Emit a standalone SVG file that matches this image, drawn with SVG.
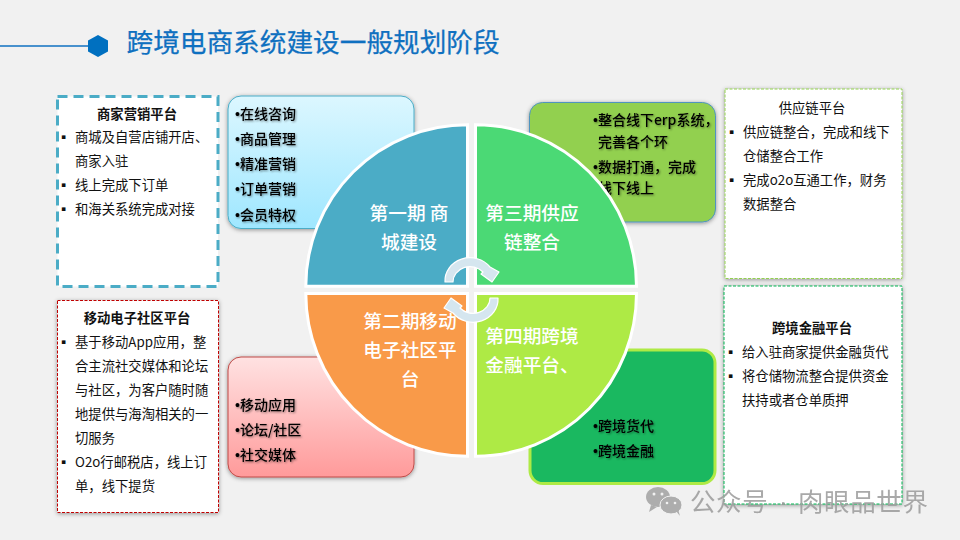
<svg xmlns="http://www.w3.org/2000/svg" width="960" height="540" viewBox="0 0 960 540">
<style>
text{font-family:"Noto Sans CJK SC","Liberation Sans",sans-serif;}
.title{font-size:26.67px;fill:#0f70c0;stroke:#0f70c0;stroke-width:0.25;}
.b{font-size:13.33px;fill:#111;}
.h{font-size:13.33px;fill:#111;font-weight:700;text-anchor:middle;}
.l{font-size:14px;fill:#000;font-weight:500;filter:url(#ts);}
.d{font-family:"Liberation Sans",sans-serif;}
.q{font-size:18.67px;fill:#fff;font-weight:500;text-anchor:middle;}
.sq{stroke:#fff;stroke-width:3;}
.panel{fill:#fff;}
.sh{filter:url(#ds);}
.wm{font-size:25.500px;fill:#a0a0a0;letter-spacing:0.6px;}
</style>
<defs>
<filter id="ds" x="-10%" y="-10%" width="120%" height="120%"><feDropShadow dx="0" dy="1" stdDeviation="2" flood-color="#000" flood-opacity="0.4"/></filter>
<filter id="ts" x="-5%" y="-15%" width="115%" height="135%"><feDropShadow dx="1" dy="1" stdDeviation="0.8" flood-color="#000" flood-opacity="0.45"/></filter>
<linearGradient id="gb" x1="0" y1="0" x2="0" y2="1"><stop offset="0" stop-color="#dcf7ff"/><stop offset="1" stop-color="#9fe7ff"/></linearGradient>
<linearGradient id="gr" x1="0" y1="0" x2="0" y2="1"><stop offset="0" stop-color="#ffe2e2"/><stop offset="1" stop-color="#ff9a9a"/></linearGradient>
</defs>
<rect width="960" height="540" fill="#f1f1f1"/>
<g id="header">
<line x1="0" y1="46" x2="90" y2="46" stroke="#0f70c0" stroke-width="1.6"/>
<polygon points="98,35 108,40.5 108,51.500 98,57 88,51.500 88,40.500" fill="#0070c0"/>
<text class="title" x="126.500" y="51.500">跨境电商系统建设一般规划阶段</text>
</g>
<g id="panel-merchant">
<rect class="panel" x="57.500" y="96.500" width="160.500" height="190" stroke="#4bacc6" stroke-width="3" stroke-dasharray="10 6"/>
<text class="h" x="137" y="119">商家营销平台</text>
<text class="b" x="57" y="142">▪</text><text class="b" x="75" y="142">商城及自营店铺开店、</text>
<text class="b" x="75" y="166">商家入驻</text>
<text class="b" x="57" y="190">▪</text><text class="b" x="75" y="190">线上完成下订单</text>
<text class="b" x="57" y="214">▪</text><text class="b" x="75" y="214">和海关系统完成对接</text>
</g>
<g id="panel-mobile">
<rect class="panel sh" x="57.500" y="300.500" width="161" height="212" stroke="#c00000" stroke-width="1" stroke-dasharray="3 1.500"/>
<text class="h" x="137" y="323">移动电子社区平台</text>
<text class="b" x="57" y="347">▪</text><text class="b" x="75" y="347">基于移动App应用，整</text>
<text class="b" x="75" y="371">合主流社交媒体和论坛</text>
<text class="b" x="75" y="395">与社区，为客户随时随</text>
<text class="b" x="75" y="419">地提供与海淘相关的一</text>
<text class="b" x="75" y="443">切服务</text>
<text class="b" x="57" y="467">▪</text><text class="b" x="75" y="467">O2o行邮税店，线上订</text>
<text class="b" x="75" y="491">单，线下提货</text>
</g>
<g id="panel-supply">
<rect class="panel sh" x="725" y="89" width="177" height="189.500" stroke="#92d050" stroke-width="1" stroke-dasharray="3 1.500"/>
<text class="b" x="812" y="113" text-anchor="middle">供应链平台</text>
<text class="b" x="725" y="137">▪</text><text class="b" x="743" y="137">供应链整合，完成和线下</text>
<text class="b" x="743" y="161">仓储整合工作</text>
<text class="b" x="725" y="185">▪</text><text class="b" x="743" y="185">完成o2o互通工作，财务</text>
<text class="b" x="743" y="209">数据整合</text>
</g>
<g id="panel-finance">
<rect class="panel sh" x="724" y="286" width="178" height="218" stroke="#00b050" stroke-width="1" stroke-dasharray="3 1.500"/>
<text class="h" x="812" y="333">跨境金融平台</text>
<text class="b" x="724" y="357">▪</text><text class="b" x="742" y="357">给入驻商家提供金融货代</text>
<text class="b" x="724" y="381">▪</text><text class="b" x="742" y="381">将仓储物流整合提供资金</text>
<text class="b" x="742" y="405">扶持或者仓单质押</text>
</g>
<g id="card-1">
<rect class="sh" x="228" y="96" width="186" height="132.500" rx="13" fill="url(#gb)" stroke="#4bacc6"/>
<text class="l" x="235" y="119"><tspan class="d">•</tspan>在线咨询</text>
<text class="l" x="235" y="144"><tspan class="d">•</tspan>商品管理</text>
<text class="l" x="235" y="169"><tspan class="d">•</tspan>精准营销</text>
<text class="l" x="235" y="194"><tspan class="d">•</tspan>订单营销</text>
<text class="l" x="235" y="220"><tspan class="d">•</tspan>会员特权</text>
</g>
<g id="card-2">
<rect class="sh" x="228" y="357" width="186" height="120" rx="13" fill="url(#gr)" stroke="#be4b48"/>
<text class="l" x="235" y="410"><tspan class="d">•</tspan>移动应用</text>
<text class="l" x="235" y="435"><tspan class="d">•</tspan>论坛/社区</text>
<text class="l" x="235" y="460"><tspan class="d">•</tspan>社交媒体</text>
</g>
<g id="card-3">
<rect class="sh" x="529.500" y="102.500" width="186" height="119.500" rx="13" fill="#92d050" stroke="#4f94c0"/>
<text class="l" x="593" y="125"><tspan class="d">•</tspan>整合线下erp系统，</text>
<text class="l" x="598" y="147">完善各个环</text>
<text class="l" x="593" y="172"><tspan class="d">•</tspan>数据打通，完成</text>
<text class="l" x="598" y="193">线下线上</text>
</g>
<g id="card-4">
<rect x="530" y="350" width="185" height="133.500" rx="13" fill="#1ab860" stroke="#aeea45" stroke-width="3"/>
<text class="l" x="593" y="431"><tspan class="d">•</tspan>跨境货代</text>
<text class="l" x="593" y="456"><tspan class="d">•</tspan>跨境金融</text>
</g>
<g id="phase-1">
<path class="sq" d="M467.500,286.200 H305.800 A161.700,161.500 0 0 1 467.500,124.700 Z" fill="#4bacc6"/>
<text class="q" x="409" y="219.500">第一期 商</text>
<text class="q" x="409" y="248.500">城建设</text>
</g>
<g id="phase-3">
<path class="sq" d="M475.500,286.200 V124.700 A161,161.500 0 0 1 636.500,286.200 Z" fill="#4bd975"/>
<text class="q" x="532" y="219.500">第三期供应</text>
<text class="q" x="532" y="248.500">链整合</text>
</g>
<g id="phase-2">
<path class="sq" d="M467.500,293.500 V456.200 A161.700,162.700 0 0 1 305.800,293.500 Z" fill="#f99a49"/>
<text class="q" x="410" y="327.500">第二期移动</text>
<text class="q" x="410" y="356.500">电子社区平</text>
<text class="q" x="410" y="386">台</text>
</g>
<g id="phase-4">
<path class="sq" d="M475.500,293.500 H636.500 A161,162.700 0 0 1 475.500,456.200 Z" fill="#aeea45"/>
<text class="q" x="532" y="342.500">第四期跨境</text>
<text class="q" x="532" y="371.500">金融平台、</text>
</g>
<g id="connectors" fill="#d5e6ef" stroke="#fff" stroke-width="1.200" stroke-linejoin="round">
<path d="M445,282 A25,23 0 0 1 490,267 L499,272 L492,282 L481,274 L483,272 A17,15 0 0 0 453,282 Z"/>
<path d="M498,298 A25,23 0 0 1 453,313 L444,308 L451,298 L462,306 L460,308 A17,15 0 0 0 490,298 Z"/>
</g>
<g id="watermark" opacity="0.9">
<ellipse cx="658" cy="497" rx="12" ry="10" fill="#a6a6a6"/>
<polygon points="651,505 649,512 657,507" fill="#a6a6a6"/>
<ellipse cx="671" cy="505" rx="11" ry="9" fill="#a6a6a6" stroke="#f1f1f1"/>
<polygon points="676,511 680,516 678,509" fill="#a6a6a6"/>
<circle cx="654" cy="494" r="1.500" fill="#f1f1f1"/><circle cx="662" cy="494" r="1.500" fill="#f1f1f1"/>
<circle cx="667" cy="503" r="1.300" fill="#f1f1f1"/><circle cx="675" cy="503" r="1.300" fill="#f1f1f1"/>
<text class="wm" y="511"><tspan x="690">公众号</tspan><tspan class="d" x="779" fill="#999">·</tspan><tspan x="798">肉眼品世界</tspan></text>
</g>
</svg>
